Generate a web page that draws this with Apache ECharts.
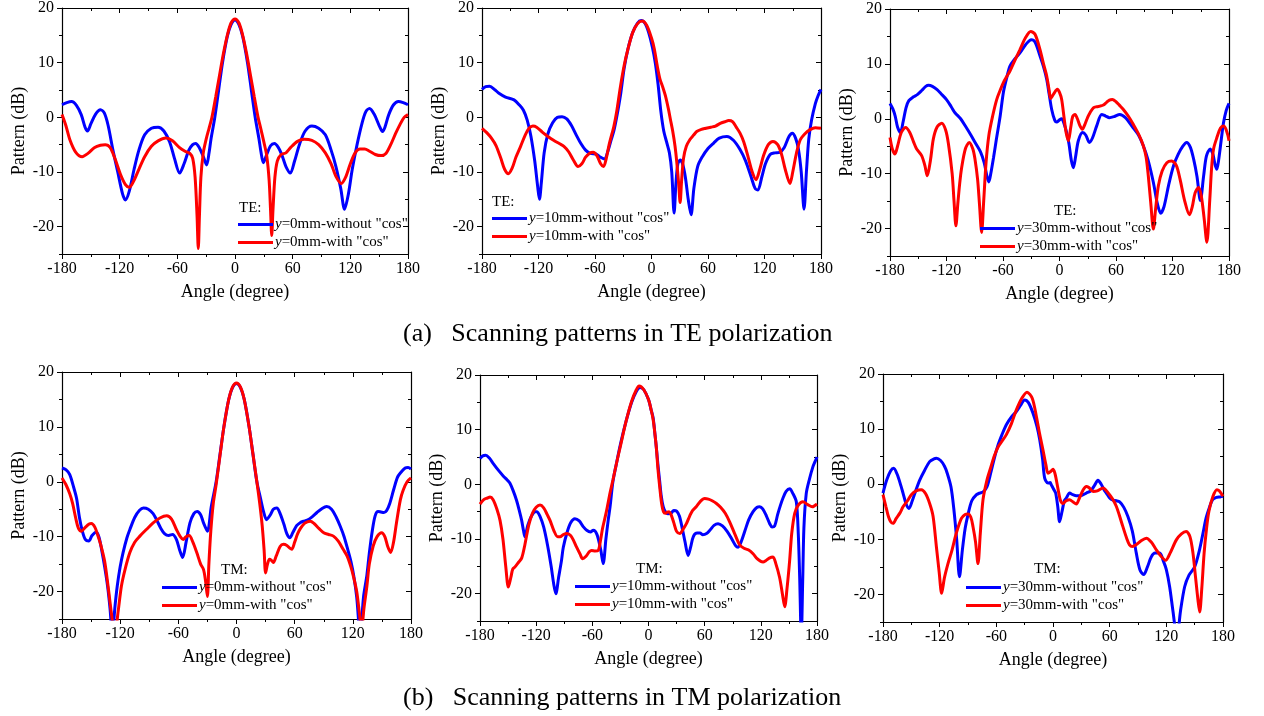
<!DOCTYPE html>
<html>
<head>
<meta charset="utf-8">
<script src="https://cdn.jsdelivr.net/npm/echarts@6/dist/echarts.min.js"></script>
<style>
  html, body { margin: 0; padding: 0; background: #fff; }
  #chart { width: 1264px; height: 716px; }
</style>
</head>
<body>
<div id="chart"></div>
<script>
// 数据: [角度, 方向图(dB)]
const xTicks = [-180, -120, -60, 0, 60, 120, 180]
const yTicks = [-20, -10, 0, 10, 20]
const yMinorTicks = [-25, -15, -5, 5, 15]

// TE, y=0mm
const te0Without = [[-180,2.3],[-175,2.7],[-170,2.9],[-165,2.2],[-160,0.5],[-156,-1.8],[-153.5,-2.5],[-150,-1.2],[-145,0.6],[-140,1.4],[-136,0.8],[-132,-1.5],[-127,-6],[-122,-10],[-117,-14],[-114,-15.1],[-110,-13.5],[-105,-9.5],[-100,-6],[-94,-3.2],[-87,-2],[-80,-1.8],[-74,-2.5],[-68,-4.5],[-63,-7.5],[-57.6,-10.2],[-53,-8.5],[-48,-6],[-44,-5],[-41,-4.8],[-37,-5.6],[-33,-7.2],[-29.5,-8.7],[-27,-6.5],[-25,-4],[-21,0],[-17,5],[-13,10],[-8,14.8],[-4,17],[0,17.8],[4,17],[8,14.8],[13,10],[17,5],[21,0],[25,-4],[27,-6.3],[29.5,-8.3],[33,-6.8],[37,-5.2],[41,-4.8],[45,-5.5],[49,-7],[53,-9],[57.6,-10.2],[62,-8],[67,-5],[73,-2.5],[80,-1.6],[87,-2],[94,-3.2],[100,-6],[105,-9],[110,-13],[114,-16.8],[118,-14],[122,-9.5],[127,-5],[132,-1.2],[136,1],[140,1.6],[145,0.5],[150,-1.5],[153.5,-2.6],[156,-1.8],[160,0.5],[165,2.3],[170,2.9],[175,2.7],[180,2.3]]
const te0With = [[-180,0.5],[-176,-1.5],[-172,-4],[-166,-6.3],[-159,-7.2],[-153,-6.6],[-146,-5.5],[-140,-5.1],[-135,-5],[-130,-5.5],[-125,-7.5],[-119,-10.5],[-114,-12.3],[-110,-12.8],[-105,-11.5],[-100,-9.5],[-94,-7.2],[-87,-5.3],[-80,-4.3],[-72,-3.8],[-65,-4.3],[-58,-5.5],[-52,-6.2],[-47,-6.6],[-44,-7.5],[-41.5,-11],[-39.5,-18],[-38.2,-24],[-37,-18],[-35.5,-11],[-33,-6.5],[-30,-4],[-27,-2],[-24,0],[-20,3.8],[-16,7.8],[-12,11.7],[-8,15],[-4,17.3],[0,18],[4,17.3],[8,15],[12,11.7],[16,7.8],[20,3.8],[24,0],[27,-2.2],[30,-4.5],[33,-7],[35.5,-11.5],[37,-17],[38.2,-21.6],[39.5,-17],[41.5,-11],[44,-8],[48,-6.8],[53,-6.5],[58,-5.5],[65,-4.4],[72,-4],[80,-4.2],[87,-5],[94,-6.5],[100,-8.5],[105,-10.8],[110.6,-12.1],[115,-11],[120,-8.5],[125,-6.5],[130,-5.8],[135,-5.8],[140,-6.2],[146,-6.8],[152,-7],[157,-6.6],[162,-5],[167,-3],[172,-1.2],[176,0],[180,0.5]]

// TE, y=10mm
const te10Without = [[-180,5.1],[-176,5.6],[-172,5.7],[-166,5.0],[-162,4.4],[-155,3.7],[-146,3.2],[-140,2.2],[-136,1.3],[-132,-0.5],[-128,-3.5],[-124,-8],[-121,-12.5],[-119,-15],[-117,-12],[-114,-6.5],[-110,-3],[-105,-1],[-100,0],[-95,0.1],[-90,-0.3],[-85,-1.5],[-80,-3.2],[-75,-4.8],[-70,-6],[-65,-6.6],[-59,-6.7],[-55,-7.2],[-50,-7.6],[-46,-6],[-43,-4.2],[-40,-2.5],[-37,0],[-33,4],[-29,9],[-25,12.5],[-20,15.5],[-15,17.2],[-11,17.7],[-7,17.2],[-3,15.5],[1,12.8],[4,10],[7,6],[10,1],[13,-2.5],[16,-4.5],[19,-6.5],[21.5,-10],[24,-17.5],[26,-12],[28,-8.5],[30.5,-7.8],[33,-8.5],[36,-11],[39,-15],[42,-17.8],[45,-13],[49,-9],[54,-7.2],[60,-5.7],[66,-4.7],[72,-3.8],[80,-3.5],[87,-4.2],[94,-5.9],[100,-8],[106,-11],[110,-13],[113,-13.3],[117,-11],[121,-8.5],[126,-6.8],[131,-6.5],[136,-6.4],[141,-5.5],[146,-3.5],[149.6,-2.9],[153,-3.8],[156,-5.8],[159,-10],[162,-16.8],[164.5,-10],[167,-4],[170,-0.5],[174,2.5],[177,4],[180,5.1]]
const te10With = [[-180,-2.0],[-175,-2.8],[-170,-3.8],[-165,-5.2],[-160,-7.5],[-156,-9.5],[-152,-10.3],[-148,-9.3],[-144,-7.3],[-139,-5.3],[-134,-3.2],[-130,-2],[-126,-1.6],[-122,-1.8],[-116,-2.7],[-110,-3.5],[-104,-4.2],[-98,-4.8],[-93,-5.3],[-88,-6.3],[-83,-7.8],[-78,-9.0],[-74,-8.5],[-70,-7.3],[-66,-6.6],[-62,-6.4],[-58,-7],[-54,-8.5],[-51,-9],[-48,-7.5],[-45,-5],[-42,-3],[-40,-1.7],[-37,1],[-33,5.6],[-29,9.5],[-25,12.5],[-20,15.5],[-15,17.1],[-10,17.6],[-5,16.8],[0,14.5],[3,12.5],[6,9.5],[9,7],[12,5.5],[15,3.8],[18,1.5],[20,-0.3],[22.5,-2.5],[25,-5.3],[27,-8.5],[29,-12.5],[30.4,-15.6],[32,-11.5],[34,-7.5],[37,-5.3],[41,-4],[45,-3.2],[48,-2.6],[53,-2.2],[58,-2],[63,-1.8],[68,-1.6],[73,-1.1],[78,-0.8],[82,-0.6],[86,-0.8],[90,-1.8],[94,-2.9],[98,-4.5],[103,-7.5],[107,-10],[111,-11.4],[115,-9.5],[119,-7],[124,-5],[129,-4.4],[134,-5],[138,-6.7],[142,-9.5],[147,-12.1],[150,-10],[154,-6.5],[158,-4.1],[163,-3],[168,-2.3],[174,-1.9],[180,-2.0]]

// TE, y=30mm
const te30Without = [[-180,2.8],[-177,1.8],[-174.5,0.5],[-172,-1.5],[-169,-2.5],[-166,-0.5],[-163,2],[-160,3.3],[-155,4.0],[-151,4.4],[-146,5.2],[-142,5.9],[-139,6.1],[-135,5.9],[-130,5.3],[-126,4.6],[-120,3.5],[-115,2.2],[-111,1.1],[-105,0],[-99,-1.6],[-94,-3],[-89,-4.5],[-84,-6],[-80,-8],[-77,-10.5],[-75,-11.5],[-73,-10],[-70,-7],[-67,-3.7],[-63,0.5],[-59.6,4.8],[-56,7.5],[-52.6,9.6],[-47,11],[-42,12.0],[-36,13.5],[-30,14.4],[-26,14],[-21,11.6],[-17,9.5],[-13.6,7.2],[-11,4.5],[-8.3,1.7],[-5,-0.3],[-3,-0.6],[0,-0.2],[2.3,0],[5,-1],[7.6,-2.5],[10,-4.5],[12.5,-7.5],[14.7,-8.9],[17,-7],[20,-4],[24.6,-2.5],[28,-3],[31.7,-4.3],[35,-3.5],[39.5,-1.3],[44.8,0.8],[49,0.5],[53,0.2],[58,0.4],[64,0.8],[70,0.2],[78,-1.6],[84,-3],[89,-4.9],[94,-7.5],[99.7,-11.6],[104,-15.5],[107.5,-17.2],[111,-16],[116,-12],[121,-8.6],[126,-6.5],[131,-5],[135,-4.3],[139,-5.2],[142.5,-7.4],[146,-10.5],[149.6,-14.9],[153,-10.5],[156,-6.8],[160,-5.5],[163,-6.5],[165,-8.2],[167,-9.2],[169,-7.5],[172,-3.5],[174.2,-0.7],[177,1.5],[180,2.8]]
const te30With = [[-180,-3.4],[-177.5,-5.5],[-174.7,-6.4],[-172,-5],[-168,-2.5],[-163.4,-1.6],[-159,-2.5],[-155,-4.2],[-151.7,-5.5],[-146.4,-6.7],[-143,-8.5],[-140.4,-10.4],[-137,-7.5],[-134,-3.7],[-130,-1.5],[-125,-0.8],[-121,-2],[-118,-4.5],[-114,-10],[-112,-15],[-110,-19.5],[-108,-15.5],[-106,-11.8],[-104,-9],[-100,-5.5],[-95.8,-4.3],[-92,-5.5],[-89.7,-7.4],[-87,-11],[-85,-15.5],[-82.7,-20.7],[-80.5,-15],[-78,-8],[-75,-3],[-71,0.5],[-66.7,3.5],[-63,5.2],[-59.6,6.6],[-56,7.7],[-52.6,8.7],[-47,10.8],[-42,12.6],[-36,14.8],[-30.6,15.9],[-26,15.4],[-20.7,12.6],[-17,10],[-13.6,7.8],[-11,5.2],[-9.4,3.7],[-6,4.6],[-2.3,5.4],[0,4.8],[2.3,3.5],[5,0],[7,-2.5],[9.4,-4],[12,-1.5],[14,0.4],[16.5,0.8],[19,0],[21.5,-1.2],[24.2,-1.9],[27,-1],[30,0.3],[32.4,1.1],[36,2.0],[39.5,2.2],[43,2.3],[46.6,2.5],[50,3.0],[53,3.4],[56.1,3.5],[60,3.1],[64,2.4],[67.8,1.7],[73,0.5],[78.3,-1.0],[84,-2.8],[89,-4.9],[92,-7],[94.3,-10.4],[97,-15.5],[99.7,-20.1],[102,-16.5],[105,-12.2],[109,-9.5],[114,-8],[119,-7.7],[124,-8.5],[128,-11],[133,-15],[138,-17.5],[141,-16],[144,-13.5],[147.6,-12.5],[150.5,-14],[153.5,-18],[156.5,-22.5],[159.5,-15],[161.5,-9],[163.6,-5.5],[167,-3.5],[171,-1.7],[174.2,-1.3],[177,-2],[180,-4.0]]

// TM, y=0mm
const tm0Without = [[-180,2.5],[-176,2.2],[-172,1.3],[-168,-1],[-165,-3],[-162,-6.5],[-159,-9],[-156,-10.5],[-152.4,-10.8],[-149,-9.8],[-145,-9.2],[-142,-10],[-139,-12.5],[-136,-15.5],[-133,-19],[-130.5,-23],[-128,-28],[-125.5,-23],[-123,-19],[-120,-15.5],[-117,-12.9],[-113,-10.2],[-110,-8.7],[-105,-6.5],[-100,-5.2],[-96,-4.8],[-91,-5],[-86,-5.8],[-82.5,-6.9],[-78,-8.5],[-74,-9.5],[-70,-9.8],[-66,-9.6],[-62,-10.5],[-58.5,-12.5],[-55.6,-13.8],[-52,-11],[-48,-7.5],[-44,-5.8],[-40.5,-5.4],[-37,-6],[-34,-7.5],[-30,-9.0],[-26,-4.5],[-21,0],[-17,5],[-13,10],[-8,15],[-4,17.2],[0,17.9],[4,17.2],[8,15],[13,10],[17,5],[21,0],[25,-3.2],[28,-5.5],[31,-6.9],[35,-6],[38,-5],[41.5,-4.8],[45,-5.8],[49,-7.8],[52,-9.5],[55,-10.2],[58,-9.3],[62,-8],[66,-7.4],[69,-7.2],[73,-7],[78,-6.4],[83,-5.6],[88,-4.9],[93,-4.5],[98,-5],[103,-6.5],[107,-8.1],[111,-10],[115,-12.5],[118,-14.5],[121,-17.2],[124,-21],[127.6,-28],[131,-21],[134.5,-17],[137,-13],[140,-9],[143,-6.2],[146,-5.4],[149,-5.5],[152,-5.6],[155,-5.2],[158,-4],[162,-1.5],[166,0.8],[169,1.6],[174,2.5],[177,2.6],[180,2.3]]
const tm0With = [[-180,0.7],[-176,-0.5],[-172,-2.2],[-169,-4],[-166,-6.5],[-163,-8.5],[-160,-9.0],[-156,-8.3],[-152,-7.7],[-149.7,-7.6],[-146,-8.3],[-143,-9.8],[-140,-11.5],[-136,-14.5],[-132.5,-19],[-129,-24],[-125.6,-28],[-122,-23.5],[-118.7,-19],[-115,-16],[-110,-12.9],[-105,-11],[-99.7,-9.9],[-93,-8.7],[-86,-7.5],[-79,-6.6],[-72,-6.2],[-67,-6.8],[-62,-8.7],[-58,-10],[-55,-10.5],[-52,-10],[-48.8,-9.8],[-45,-11],[-41,-12.9],[-37,-15],[-34,-16],[-32,-18],[-30,-20.9],[-28.5,-15],[-26.5,-9],[-24,-4],[-21,-0.5],[-17,4.8],[-13,10],[-8,15],[-4,17.3],[0,18],[4,17.3],[8,15],[13,10],[17,5],[21,0],[24,-4],[26.5,-8],[28.5,-12.5],[30,-16.6],[32,-15],[34,-14.1],[36,-14.3],[38,-14.7],[41,-13.5],[45,-11.8],[48.4,-11.4],[52,-11.6],[55,-12.1],[57,-12.3],[60,-11],[63,-9.5],[66,-8.5],[70,-7.6],[73,-7.3],[76,-7.2],[80,-7.6],[85,-8.5],[90,-9.3],[95,-9.6],[100,-9.9],[105,-10.8],[110,-12.3],[114,-13.5],[118,-15.5],[121,-17.5],[124,-20],[126.5,-23.5],[129,-27],[131.5,-23],[134.5,-19],[137,-15],[141,-11.7],[145,-10],[149.7,-9.3],[153,-10],[156,-11.8],[159,-12.9],[162,-11],[165,-7.5],[169,-3.3],[172,-1.5],[176,0],[180,0.7]]

// TM, y=10mm
const tm10Without = [[-180,4.7],[-177,5.2],[-174,5.3],[-170,4.8],[-165.8,3.8],[-160,2.5],[-155,1.5],[-151,0.8],[-148,0.2],[-144.5,-1.2],[-141,-2.9],[-138,-4.8],[-135.5,-6.6],[-133.5,-8.5],[-132,-9.6],[-129,-7.5],[-125,-5.8],[-121,-5],[-119.5,-5],[-116,-5.8],[-112,-7.8],[-108,-11],[-104,-15],[-101,-18.5],[-99,-20],[-96,-17],[-93,-14],[-91,-11.5],[-87,-8.8],[-83,-7],[-78.6,-6.3],[-74,-6.7],[-70,-7.7],[-66,-8.4],[-62,-8.7],[-59,-8.4],[-55,-9.2],[-51,-12],[-48.4,-14.5],[-45.5,-10],[-43,-6.5],[-41,-4],[-38,0.5],[-34,4],[-30,7.3],[-24,11.5],[-18,15],[-13,17],[-9,17.7],[-5,17.3],[0,15.5],[3,13.5],[5,12.1],[7,9],[8.5,6.5],[10.3,3.2],[12,0.5],[13.5,-2],[15.7,-4.1],[18,-5],[21,-5.4],[24,-5.3],[27,-4.8],[30,-4.9],[33,-5.8],[36,-8],[39,-10.5],[42.3,-13.0],[45,-11.5],[48,-9.5],[52,-8.9],[55,-8.9],[58,-9.2],[62,-9],[66,-8.3],[70,-7.5],[74.3,-7.2],[79,-7.6],[84,-8.6],[89,-10],[93,-11.2],[95.7,-11.5],[99,-10.5],[103,-8.5],[107,-6.5],[111.7,-5],[116,-4.2],[118.8,-4.1],[122,-4.5],[126,-5.8],[129.5,-7.2],[132,-7.8],[134.8,-7.6],[138,-5.5],[141,-3.8],[143.7,-2.5],[147,-1.3],[150.8,-0.8],[154,-1.6],[157.9,-3.2],[160,-9],[161.5,-17],[163.2,-28],[164.8,-17],[166,-8],[168.5,-1.7],[172,1],[175.6,3.2],[178,4.2],[180,5.0]]
const tm10With = [[-180,-3.6],[-176,-2.8],[-172,-2.5],[-169.3,-2.3],[-166,-2.8],[-162,-4.5],[-158.6,-6.6],[-155.5,-10],[-152.5,-15],[-149.7,-18.8],[-147,-17],[-145,-15.5],[-142.6,-15.1],[-139,-14.3],[-135.5,-13.5],[-132,-11],[-128,-7.5],[-124,-5.3],[-120,-4.2],[-115.9,-3.8],[-112,-4.3],[-108,-5.6],[-105.2,-6.6],[-101,-8.5],[-97,-9.6],[-94.5,-9.6],[-91,-9.2],[-87,-9],[-83,-9.4],[-80,-10.3],[-76.8,-11.5],[-73,-12.8],[-70.4,-13.6],[-67,-13.2],[-63,-12.3],[-60.8,-12.1],[-57,-12.2],[-53.7,-12.1],[-51,-10],[-49,-8],[-45,-5],[-41,-1.5],[-38,0.8],[-34,4],[-30,7],[-24,11.5],[-18,15.2],[-13,17.3],[-10,18],[-5,17.3],[0,15.5],[3,13.5],[5,11.8],[7,9],[8.5,6.5],[10,3],[12,-0.5],[14,-3.5],[16,-5],[18,-5.3],[20,-5.1],[22,-5.0],[24,-5.5],[27,-7],[30,-8.6],[33.4,-9.0],[37,-8.2],[40.5,-7.2],[44,-5.8],[47,-4.8],[51,-4.1],[55,-3.2],[60,-2.6],[64,-2.7],[68,-3],[72.6,-3.5],[77,-4.2],[82,-5.3],[86.8,-6.9],[92,-9],[97.5,-11.1],[102,-11.7],[107,-12],[111.7,-12.7],[116,-13.6],[120,-14.1],[122.4,-14.2],[125,-14],[129,-13.5],[133,-13.3],[136,-14.5],[140,-17],[143,-20],[145.5,-22.4],[148,-19],[150.8,-13.9],[153,-9],[156.2,-5.3],[160,-3.8],[165,-3.2],[170,-3.7],[175,-4.1],[180,-3.6]]

// TM, y=30mm
const tm30Without = [[-180,-1.6],[-176,0.8],[-172,2.4],[-168.7,2.9],[-165,1.8],[-161,-0.3],[-158.8,-1.6],[-155.5,-3.6],[-152.5,-4.4],[-149,-3],[-145,-1],[-141,0.8],[-136,2.5],[-130.6,4.1],[-126,4.6],[-123.5,4.7],[-119,4.3],[-115,3.3],[-112,2],[-108,-0.5],[-105,-4.5],[-102,-10],[-99,-16.8],[-96,-12],[-93,-8],[-90,-5.5],[-86,-3],[-81,-1.9],[-77.6,-1.6],[-74,-1.4],[-70,-0.5],[-66,2],[-62,4.8],[-58,7.2],[-54,9],[-49.4,10.8],[-44,12.2],[-38.8,13.2],[-34,14.4],[-30,15.3],[-26,14.8],[-21.2,12.9],[-17,10.5],[-14.1,8.1],[-11,4.5],[-8.8,1.1],[-5.3,0.2],[-3,0.3],[-1.8,-0.1],[1,-1],[2.8,-1.6],[5,-4],[7,-6.8],[9.5,-5],[12,-3],[14.1,-2.5],[17.6,-1.6],[21,-1.9],[24.7,-2.1],[29,-2.1],[35.3,-1.6],[40,-1.2],[44,-0.2],[47.6,0.7],[51,0],[54,-1],[56.5,-1.6],[60,-2.5],[63.5,-2.9],[67,-3],[70.6,-3.2],[75,-4.2],[79.4,-5.9],[84,-8.5],[88.2,-12.5],[92,-15.5],[96,-16.4],[100,-15],[104,-13.2],[108,-12.5],[113,-12.5],[117,-14],[120,-15.5],[123.5,-18.6],[127,-23],[131.3,-28],[135,-23],[139.4,-18.6],[144,-16.5],[150,-15],[155,-12],[158.8,-8.9],[162,-6.2],[165.9,-4.1],[169,-2.8],[173,-2.4],[177,-2.3],[180,-2.2]]
const tm30With = [[-180,-1.9],[-177,-4],[-174,-6],[-171.5,-6.9],[-169.4,-7.1],[-166,-6.2],[-162,-5.2],[-158.8,-4.1],[-154,-3],[-150,-1.9],[-145,-1.2],[-139.4,-1.0],[-135,-1.7],[-130.6,-3.5],[-127,-5.8],[-123.5,-11.3],[-120.5,-16],[-117.9,-19.8],[-115,-17],[-111.2,-14.4],[-107,-12],[-102.4,-8.9],[-97,-6.2],[-93,-5.5],[-90,-5.4],[-87,-6],[-84.7,-7.7],[-82,-10.5],[-79.4,-14.4],[-77,-9],[-74.1,-2.8],[-70,0.7],[-66,3],[-62,5.2],[-58,6.8],[-54,7.8],[-49.4,9.0],[-44,11],[-38.8,13.5],[-33,15.6],[-27.5,16.7],[-22,15.6],[-17.6,12.3],[-14,9],[-10.6,6.2],[-7.5,3.5],[-5.3,2.0],[-2.5,2.3],[0,2.7],[2,2],[3.5,0.8],[6,-1.5],[8,-3],[10.6,-3.5],[14,-3],[17.6,-2.8],[21,-3.2],[24.7,-3.6],[28,-2.5],[32,-1],[35.3,-0.4],[38,-0.6],[42.4,-1.3],[47,-1.2],[53,-0.7],[58,-1.5],[63.5,-2.8],[67,-4],[70,-5.5],[74,-7.7],[78,-9.8],[81,-11],[84,-11.3],[88,-11],[93,-10.3],[98.8,-9.8],[104,-10.5],[109.4,-11.9],[114,-13],[119.3,-13.8],[124,-12.5],[130.6,-10.1],[136,-9],[141,-8.6],[145,-9.5],[148.2,-12.5],[151,-17],[153.5,-21],[155.3,-23.2],[157.5,-19],[160,-12.5],[162.4,-8.3],[165,-5],[169.4,-2.2],[173.6,-1.0],[176,-1.2],[180,-2.2]]

const panelModes = ['TE', 'TE', 'TE', 'TM', 'TM', 'TM']
const panelOffsets = ['0', '10', '30', '0', '10', '30']
const withoutData = [te0Without, te10Without, te30Without, tm0Without, tm10Without, tm30Without]
const withData = [te0With, te10With, te30With, tm0With, tm10With, tm30With]
const captions = ['(a)   Scanning patterns in TE polarization', '(b)   Scanning patterns in TM polarization']

// 布局
const FONT = '"Liberation Serif", "Times New Roman", serif'
const grids = [
  { left: 62, top: 6, width: 346, height: 248 },
  { left: 482, top: 7, width: 339, height: 247 },
  { left: 890, top: 9, width: 339, height: 247 },
  { left: 62, top: 372, width: 349, height: 247 },
  { left: 480, top: 375, width: 337, height: 246 },
  { left: 883, top: 374, width: 340, height: 248 }
]
const legendPos = [
  { head: [239, 201], left: 238, top: 217 },
  { head: [492, 195], left: 492, top: 211 },
  { head: [1054, 204], left: 980, top: 221 },
  { head: [221, 563], left: 162, top: 580 },
  { head: [636, 562], left: 575, top: 579 },
  { head: [1034, 562], left: 966, top: 580 }
]

const chart = echarts.init(document.getElementById('chart'), null, { renderer: 'canvas' })

const xAxes = []
const yAxes = []
const series = []
const legends = []
const titles = []

grids.forEach((g, i) => {
  const xBase = {
    gridIndex: i, type: 'value', min: -180, max: 180, interval: 60,
    splitLine: { show: false },
    axisLine: { show: true, onZero: false, lineStyle: { color: '#000', width: 1.2 } },
    minorTick: { show: true, splitNumber: 2, length: 3, lineStyle: { color: '#000' } }
  }
  xAxes.push(Object.assign({}, xBase, {
    position: 'bottom',
    axisTick: { inside: false, length: 5, lineStyle: { color: '#000' } },
    axisLabel: { fontFamily: FONT, fontSize: 16, color: '#000', margin: 7 },
    name: 'Angle (degree)', nameLocation: 'middle', nameGap: 29,
    nameTextStyle: { fontFamily: FONT, fontSize: 18, color: '#000' }
  }))
  xAxes.push(Object.assign({}, xBase, {
    position: 'top',
    axisTick: { inside: true, length: 5, lineStyle: { color: '#000' } },
    axisLabel: { show: false }
  }))

  const yBase = {
    gridIndex: i, type: 'value', min: -25, max: 20, interval: 5,
    splitLine: { show: false }
  }
  // 左侧主刻度 + 标签
  yAxes.push(Object.assign({}, yBase, {
    position: 'left',
    axisLine: { show: true, onZero: false, lineStyle: { color: '#000', width: 1.2 } },
    axisTick: { inside: false, length: 5, customValues: yTicks, lineStyle: { color: '#000' } },
    axisLabel: { customValues: yTicks, fontFamily: FONT, fontSize: 16, color: '#000', margin: 8 },
    name: 'Pattern (dB)', nameLocation: 'middle', nameGap: 34,
    nameTextStyle: { fontFamily: FONT, fontSize: 18, color: '#000' }
  }))
  // 左侧次刻度
  yAxes.push(Object.assign({}, yBase, {
    position: 'left',
    axisLine: { show: false, onZero: false },
    axisTick: { inside: false, length: 3, customValues: yMinorTicks, lineStyle: { color: '#000' } },
    axisLabel: { show: false }
  }))
  // 右侧
  yAxes.push(Object.assign({}, yBase, {
    position: 'right',
    axisLine: { show: true, onZero: false, lineStyle: { color: '#000', width: 1.2 } },
    axisTick: { inside: true, length: 5, customValues: yTicks, lineStyle: { color: '#000' } },
    axisLabel: { show: false }
  }))
  yAxes.push(Object.assign({}, yBase, {
    position: 'right',
    axisLine: { show: false, onZero: false },
    axisTick: { inside: true, length: 3, customValues: yMinorTicks, lineStyle: { color: '#000' } },
    axisLabel: { show: false }
  }))

  const mode = panelModes[i]
  const off = panelOffsets[i]
  const nameA = mode + i + '|y=' + off + 'mm-without "cos"'
  const nameB = mode + i + '|y=' + off + 'mm-with "cos"'
  series.push({
    name: nameA, type: 'line', xAxisIndex: i * 2, yAxisIndex: i * 4,
    data: withoutData[i], showSymbol: false, symbol: 'none', smooth: 0.3,
    lineStyle: { color: '#0000ff', width: 3 }, itemStyle: { color: '#0000ff' },
    clip: true
  })
  series.push({
    name: nameB, type: 'line', xAxisIndex: i * 2, yAxisIndex: i * 4,
    data: withData[i], showSymbol: false, symbol: 'none', smooth: 0.3,
    lineStyle: { color: '#ff0000', width: 3 }, itemStyle: { color: '#ff0000' },
    clip: true
  })

  const lp = legendPos[i]
  legends.push({
    data: [nameA, nameB], orient: 'vertical', left: lp.left, top: lp.top,
    padding: 0, icon: 'rect', itemWidth: 35, itemHeight: 3, itemGap: 3, selectedMode: false,
    formatter: n => '{i|y}' + n.split('|')[1].slice(1),
    textStyle: {
      fontFamily: FONT, fontSize: 15, color: '#000', padding: [0, 0, 0, -3],
      rich: { i: { fontFamily: FONT, fontSize: 15, fontStyle: 'italic', color: '#000' } }
    }
  })
  titles.push({
    text: mode + ':', left: lp.head[0], top: lp.head[1], padding: 0,
    textStyle: { fontFamily: FONT, fontSize: 15, fontWeight: 'normal', color: '#000' }
  })
})

titles.push({
  text: captions[0], left: 403, top: 321, padding: 0,
  textStyle: { fontFamily: FONT, fontSize: 26, fontWeight: 'normal', color: '#000' }
})
titles.push({
  text: captions[1], left: 403, top: 685, padding: 0,
  textStyle: { fontFamily: FONT, fontSize: 26, fontWeight: 'normal', color: '#000' }
})

chart.setOption({
  backgroundColor: '#fff',
  animation: false,
  title: titles,
  grid: grids,
  xAxis: xAxes,
  yAxis: yAxes,
  legend: legends,
  series: series
})

window.addEventListener('resize', () => chart.resize())
</script>
</body>
</html>
